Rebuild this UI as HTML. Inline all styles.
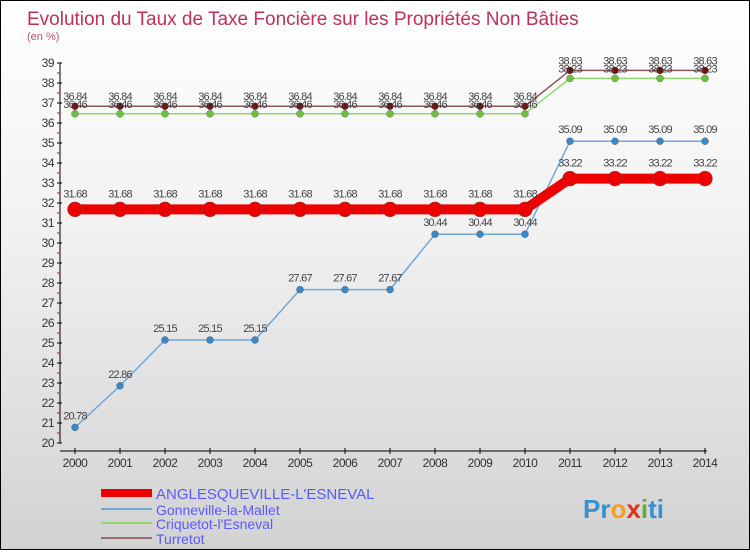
<!DOCTYPE html>
<html><head><meta charset="utf-8"><style>
html,body{margin:0;padding:0}
body{width:750px;height:550px;overflow:hidden;font-family:"Liberation Sans",sans-serif}
#wrap{position:relative;width:748px;height:548px;border:1px solid #000;background:linear-gradient(#ffffff 0%,#f2f2f2 40%,#d2d2d2 100%)}
</style></head><body>
<div id="wrap">
<svg width="748" height="548" viewBox="0 0 748 548" xmlns="http://www.w3.org/2000/svg" id="svg">
<text x="26" y="24" font-size="19" fill="#c0305a">Evolution du Taux de Taxe Foncière sur les Propriétés Non Bâties</text>
<text x="26" y="39" font-size="11" fill="#c0507a">(en %)</text>
<g id="axes"></g><g id="series"></g><g id="legend"></g>
<text x="582" y="517" font-size="26" font-weight="bold" fill="#3a8fd0">Pr<tspan fill="#f0a020">o</tspan><tspan fill="#e03020">x</tspan><tspan fill="#60b030">i</tspan>ti</text>
</svg>
</div>
<script>
const years=[2000,2001,2002,2003,2004,2005,2006,2007,2008,2009,2010,2011,2012,2013,2014];
const yTicks=[20,21,22,23,24,25,26,27,28,29,30,31,32,33,34,35,36,37,38,39];
const anglesqueville=[31.68,31.68,31.68,31.68,31.68,31.68,31.68,31.68,31.68,31.68,31.68,33.22,33.22,33.22,33.22];
const gonneville=[20.78,22.86,25.15,25.15,25.15,27.67,27.67,27.67,30.44,30.44,30.44,35.09,35.09,35.09,35.09];
const criquetot=[36.46,36.46,36.46,36.46,36.46,36.46,36.46,36.46,36.46,36.46,36.46,38.23,38.23,38.23,38.23];
const turretot=[36.84,36.84,36.84,36.84,36.84,36.84,36.84,36.84,36.84,36.84,36.84,38.63,38.63,38.63,38.63];
const NS="http://www.w3.org/2000/svg";
const X=i=>74+i*45, Y=v=>62+(39-v)*20;
function mk(p,t,a){const e=document.createElementNS(NS,t);for(const k in a)e.setAttribute(k,a[k]);p.appendChild(e);return e;}
const ax=document.getElementById('axes');
let l=mk(ax,'line',{x1:59,y1:Y(39),x2:59,y2:Y(20),stroke:'#000'});

yTicks.forEach(v=>{
 mk(ax,'line',{x1:56,y1:Y(v),x2:61,y2:Y(v),stroke:'#000'});
 if(v<39)mk(ax,'line',{x1:56,y1:Y(v+0.5),x2:59,y2:Y(v+0.5),stroke:'#e00'});
 const t=mk(ax,'text',{x:53,y:Y(v)+4,'font-size':12,fill:'#333','text-anchor':'end','letter-spacing':'-0.5'});t.textContent=v;
 
});
l=mk(ax,'line',{x1:59,y1:450,x2:706,y2:450,stroke:'#000'});

years.forEach((y,i)=>{
 mk(ax,'line',{x1:X(i),y1:447,x2:X(i),y2:453,stroke:'#000'});
 const t=mk(ax,'text',{x:X(i),y:466,'font-size':12,fill:'#333','text-anchor':'middle','letter-spacing':'-0.5'});t.textContent=y;
 
});
const sg=document.getElementById('series');
const series=[
 {name:'turretot',d:turretot,c:'#8b5a5a',p:'#6a1010',w:1.5,r:3.5,dy:-6},
 {name:'criquetot',d:criquetot,c:'#90d870',p:'#70c040',w:1.5,r:3.5,dy:-6},
 {name:'gonneville',d:gonneville,c:'#70a8d8',p:'#3a88c8',w:1.5,r:3.5,dy:-8},
 {name:'anglesqueville',d:anglesqueville,c:'#ee0000',p:'#ee0000',w:10,r:7.5,dy:-12}
];
series.forEach(s=>{
 const g=mk(sg,'g',{});
 
 const pl=mk(g,'polyline',{points:s.d.map((v,i)=>X(i)+','+Y(v)).join(' '),fill:'none',stroke:s.c,'stroke-width':s.w});
 
 s.d.forEach((v,i)=>{
  const c=mk(g,'circle',{cx:X(i),cy:Y(v),r:s.r,fill:s.p,stroke:'#555','stroke-width':0.4});
  
  const t=mk(g,'text',{x:X(i),y:Y(v)+s.dy,'font-size':11,fill:'#444','text-anchor':'middle','letter-spacing':'-0.8'});
  t.textContent=v.toFixed(2);
  
 });
});
const lg=document.getElementById('legend');
const leg=[['ANGLESQUEVILLE-L\'ESNEVAL','#ee0000',8,492,15],['Gonneville-la-Mallet','#70a8d8',2,508,14],['Criquetot-l\'Esneval','#90d870',2,522,14],['Turretot','#9a6a6a',2,537,14]];
leg.forEach(e=>{
 const g=mk(lg,'g',{});
 
 mk(g,'line',{x1:100,y1:e[3],x2:151,y2:e[3],stroke:e[1],'stroke-width':e[2]});
 const t=mk(g,'text',{x:155,y:e[3]+6,'font-size':e[4],fill:'#5a5aff'});t.textContent=e[0];
});
</script>
</body></html>
